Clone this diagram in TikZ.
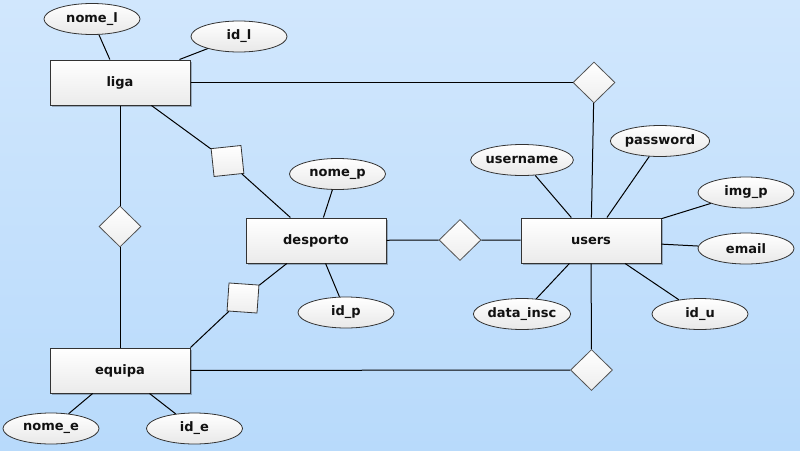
\documentclass[tikz,border=0pt]{standalone}
\usepackage{fontspec}
\setmainfont{DejaVu Sans}
\usetikzlibrary{shapes.geometric,shadows}
\definecolor{bgtop}{HTML}{D1E7FD}
\definecolor{bgbot}{HTML}{B8DAFB}
\definecolor{txt}{HTML}{111111}
\definecolor{edge}{HTML}{333333}
\tikzset{
  entity/.style={rectangle, draw=edge, line width=1pt, top color=white, bottom color=black!8,
    minimum width=140pt, minimum height=45pt, inner sep=0pt,
    font=\fontsize{13}{15}\selectfont\bfseries, text=txt,
    drop shadow={shadow xshift=1.5pt, shadow yshift=-1.5pt, opacity=0.25, fill=black}},
  attr/.style={ellipse, draw=edge, line width=0.8pt, top color=white, bottom color=black!9,
    minimum width=96pt, minimum height=31pt, inner sep=0pt,
    font=\fontsize{13}{15}\selectfont\bfseries, text=txt},
  rel/.style={diamond, draw=edge!85, line width=0.8pt, top color=white, bottom color=black!7,
    minimum width=42pt, minimum height=41pt, inner sep=0pt},
  weak/.style={rectangle, draw=edge, line width=0.8pt, top color=white, bottom color=black!7,
    minimum width=30pt, minimum height=28pt, inner sep=0pt},
  conn/.style={draw=black, line width=1pt}
}
\begin{document}
\begin{tikzpicture}[x=1pt,y=-1pt]
\shade[top color=bgtop, bottom color=bgbot] (0,0) rectangle (800,450);
\useasboundingbox (0,0) rectangle (800,450);
% relationships
\node[rel] (rLU) at (594,82.5) {};
\node[rel] (rEU) at (591.5,370) {};
\node[rel] (rDU) at (460,240) {};
\node[rel] (rLE) at (120,226.5) {};
\node[weak, rotate=6] (sLD) at (227.5,161) {};
\node[weak, rotate=-4] (sDE) at (243,298) {};
% entities
\node[entity] (liga) at (120,82.5) {liga};
\node[entity] (desporto) at (316,240.5) {desporto};
\node[entity] (users) at (591,240.5) {users};
\node[entity] (equipa) at (120,370.5) {equipa};
% attributes
\node[attr] (nomel) at (92,19) {nome\_l};
\node[attr] (idl) at (239,36.5) {id\_l};
\node[attr] (nomep) at (337.5,174) {nome\_p};
\node[attr] (idp) at (346,312.5) {id\_p};
\node[attr] (username) at (522,160) {username};
\node[attr] (password) at (660,141) {password};
\node[attr] (imgp) at (746,192.5) {img\_p};
\node[attr] (email) at (746,248.5) {email};
\node[attr] (idu) at (700,314) {id\_u};
\node[attr] (datainsc) at (522,314) {data\_insc};
\node[attr] (nomee) at (51,428.5) {nome\_e};
\node[attr] (ide) at (194.5,428.5) {id\_e};
% connectors
\draw[conn] (liga) -- (nomel);
\draw[conn] (liga) -- (idl);
\draw[conn] (liga) -- (rLU);
\draw[conn] (rLU) -- (users);
\draw[conn] (liga) -- (rLE);
\draw[conn] (rLE) -- (equipa);
\draw[conn] (liga) -- (sLD);
\draw[conn] (sLD) -- (desporto);
\draw[conn] (desporto) -- (sDE);
\draw[conn] (sDE) -- (equipa.north east);
\draw[conn] (desporto) -- (nomep);
\draw[conn] (desporto) -- (idp);
\draw[conn] (desporto) -- (rDU);
\draw[conn] (rDU) -- (users);
\draw[conn] (users) -- (username);
\draw[conn] (users) -- (password);
\draw[conn] (users) -- (imgp);
\draw[conn] (users) -- (email);
\draw[conn] (users) -- (idu);
\draw[conn] (users) -- (datainsc);
\draw[conn] (users) -- (rEU);
\draw[conn] (equipa) -- (rEU);
\draw[conn] (equipa) -- (nomee);
\draw[conn] (equipa) -- (ide);
\end{tikzpicture}
\end{document}
